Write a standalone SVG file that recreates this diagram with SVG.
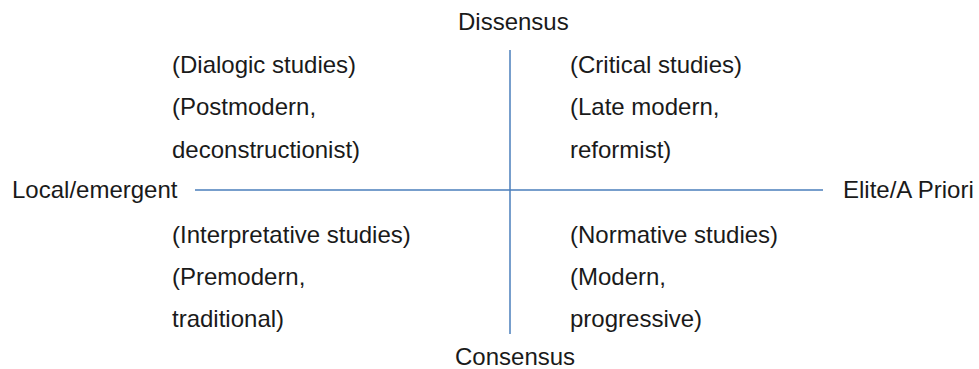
<svg xmlns="http://www.w3.org/2000/svg" width="979" height="369" viewBox="0 0 979 369">
<style>
text{font-family:"Liberation Sans",Arial,sans-serif;font-size:24px;fill:#1a1a1a}
.ax{stroke:#4a7ebb;stroke-width:1.5;fill:none}
</style>
<rect width="979" height="369" fill="#ffffff"/>
<g id="connectors">
<line class="ax" x1="195" y1="190" x2="823" y2="190"/>
<line class="ax" x1="510" y1="50" x2="510" y2="334"/>
</g>
<g id="dissensus"><text x="458" y="30">Dissensus</text></g>
<g id="consensus"><text x="455" y="365">Consensus</text></g>
<g id="local"><text x="12" y="198">Local/emergent</text></g>
<g id="elite"><text x="843" y="198">Elite/A Priori</text></g>
<g id="dialogic">
<text x="172" y="73">(Dialogic studies)</text>
<text x="172" y="115">(Postmodern,</text>
<text x="172" y="158">deconstructionist)</text>
</g>
<g id="critical">
<text x="570" y="73">(Critical studies)</text>
<text x="570" y="115">(Late modern,</text>
<text x="570" y="158">reformist)</text>
</g>
<g id="interpretative">
<text x="172" y="243">(Interpretative studies)</text>
<text x="172" y="285">(Premodern,</text>
<text x="172" y="327">traditional)</text>
</g>
<g id="normative">
<text x="570" y="243">(Normative studies)</text>
<text x="570" y="285">(Modern,</text>
<text x="570" y="327">progressive)</text>
</g>
</svg>
